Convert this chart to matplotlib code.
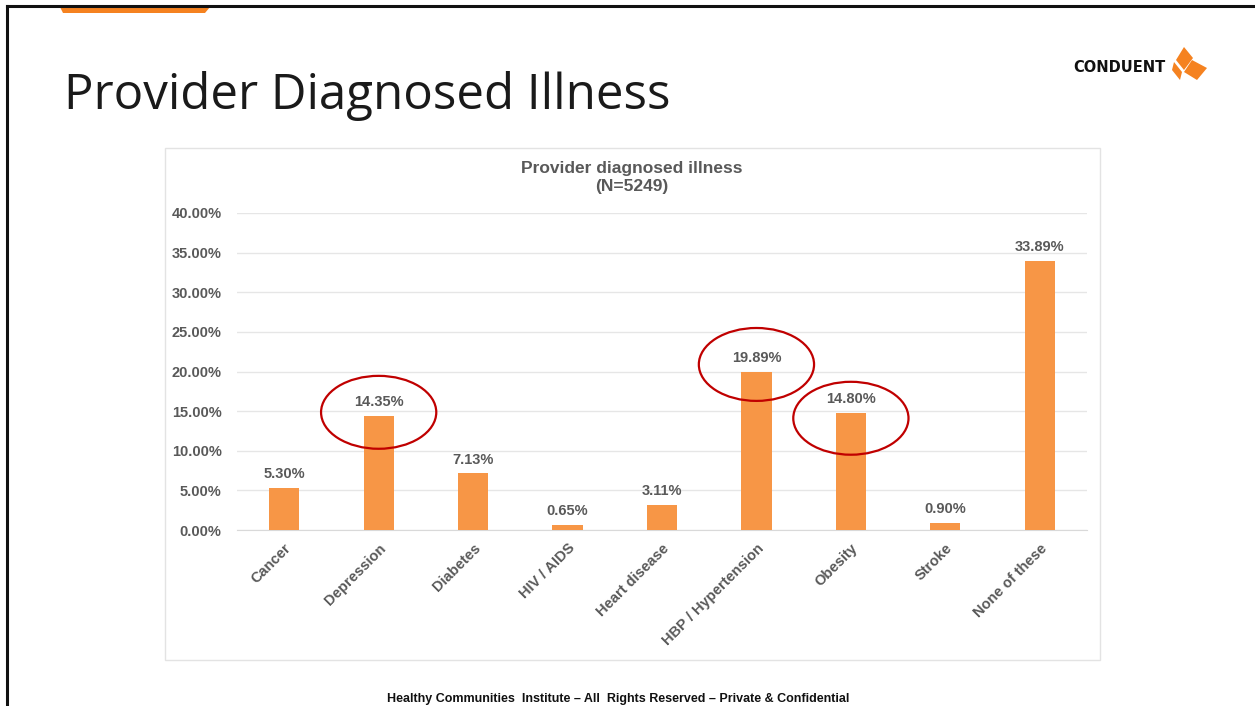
import matplotlib.pyplot as plt
from matplotlib.patches import Ellipse, Rectangle, Polygon
from matplotlib.ticker import FuncFormatter

categories = ["Cancer", "Depression", "Diabetes", "HIV / AIDS", "Heart disease",
              "HBP / Hypertension", "Obesity", "Stroke", "None of these"]
values = [5.30, 14.35, 7.13, 0.65, 3.11, 19.89, 14.80, 0.90, 33.89]
circled = ["Depression", "HBP / Hypertension", "Obesity"]
circle_offset = [0.5, 1.0, -0.7]

W, H = 1255, 706
fig = plt.figure(figsize=(12.55, 7.06), dpi=100)
fig.patch.set_facecolor("white")

gray = "#595959"
orange = "#F79646"

# slide frame + orange tab
fig.add_artist(plt.Line2D([7 / W, 1], [1 - 6 / H, 1 - 6 / H], color="#111111", lw=2.2))
fig.add_artist(plt.Line2D([7 / W, 7 / W], [0, 1 - 6 / H], color="#111111", lw=2.2))
fig.add_artist(Polygon([[60 / W, 1 - 7 / H], [210 / W, 1 - 7 / H], [205 / W, 1 - 13 / H], [63 / W, 1 - 13 / H]],
                       closed=True, color="#F58220", lw=0))

# slide title
fig.text(64 / W, 1 - 96 / H, "Provider Diagnosed Illness", fontsize=35.5, family="Open Sans",
         color="#1a1a1a", va="center", ha="left")

# logo
fig.text(1166 / W, 1 - 67 / H, "CONDUENT", fontsize=10.5, fontweight="bold", color="#111111",
         ha="right", va="center", family="DejaVu Sans")
lo = "#F58220"
def px(pts):
    return [[x / W, 1 - y / H] for x, y in pts]
fig.add_artist(Polygon(px([(1184, 47), (1193, 58), (1184, 70), (1176, 60)]), closed=True, color=lo, lw=0))
fig.add_artist(Polygon(px([(1192, 60), (1207, 68), (1197, 80), (1184, 72)]), closed=True, color=lo, lw=0))
fig.add_artist(Polygon(px([(1174, 62), (1182, 72), (1180, 80), (1172, 70)]), closed=True, color=lo, lw=0))

# chart box
fig.add_artist(Rectangle((165 / W, 1 - 660 / H), 935 / W, 512 / H, fill=False,
                         edgecolor="#E3E3E3", lw=1.0))
fig.text(632 / W, 1 - 169 / H, "Provider diagnosed illness", fontsize=12.5, fontweight="bold",
         color=gray, ha="center", va="center", family="Liberation Sans")
fig.text(632 / W, 1 - 187 / H, "(N=5249)", fontsize=12.5, fontweight="bold",
         color=gray, ha="center", va="center", family="Liberation Sans")

ax = fig.add_axes([237 / W, 1 - 530 / H, 850 / W, 317 / H])
x = list(range(len(categories)))
bars = ax.bar(x, values, width=0.32, color=orange, zorder=3)
ax.set_xlim(-0.5, len(categories) - 0.5)
ax.set_ylim(0, 40)
ax.set_yticks([0, 5, 10, 15, 20, 25, 30, 35, 40])
ax.yaxis.set_major_formatter(FuncFormatter(lambda v, p: f"{v:.2f}%"))
ax.grid(axis="y", color="#E6E6E6", lw=1, zorder=0)
for s in ["top", "right", "left"]:
    ax.spines[s].set_visible(False)
ax.spines["bottom"].set_color("#D9D9D9")
ax.tick_params(axis="both", length=0, labelcolor=gray)
for lab in ax.get_yticklabels():
    lab.set_fontweight("bold")
    lab.set_fontfamily("Liberation Sans")
    lab.set_fontsize(10.5)
ax.tick_params(axis="y", pad=11)
ax.set_xticks(x)
ax.set_xticklabels(categories, rotation=45, ha="right", rotation_mode="anchor",
                   fontsize=10.5, fontweight="bold", family="Liberation Sans", color=gray)
ax.tick_params(axis="x", pad=8)

for i, v in enumerate(values):
    ax.annotate(f"{v:.2f}%", (i, v), xytext=(0, 5), textcoords="offset points",
                ha="center", va="bottom", fontsize=10.5, fontweight="bold",
                family="Liberation Sans", color=gray)

for name, off in zip(circled, circle_offset):
    i = categories.index(name)
    ax.add_patch(Ellipse((i, values[i] + off), 1.22, 9.2, fill=False,
                         edgecolor="#C00000", lw=1.6, zorder=5, clip_on=False))

fig.text(618 / W, 1 - 699 / H,
         "Healthy Communities  Institute – All  Rights Reserved – Private & Confidential",
         fontsize=9, fontweight="bold", color="#111111", ha="center", va="center",
         family="Liberation Sans")

fig.savefig("out.png", dpi=100)
